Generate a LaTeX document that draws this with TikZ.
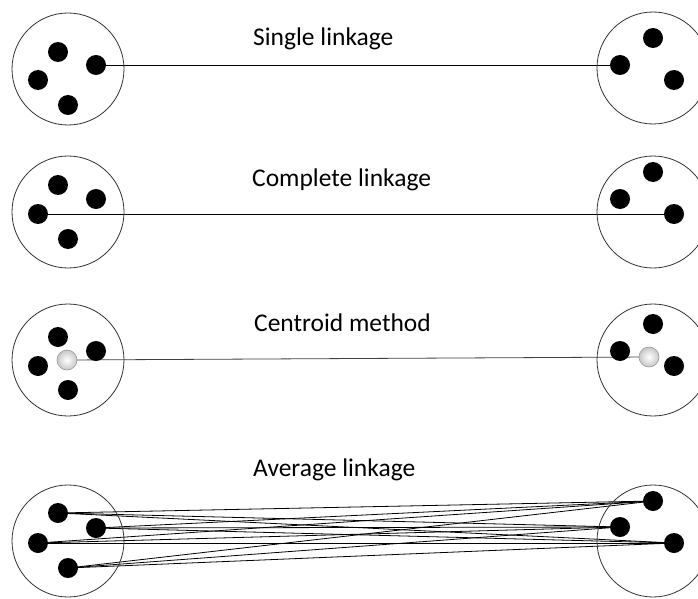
\documentclass[tikz,border=0pt]{standalone}
\usepackage{fontspec}
\setmainfont{Carlito}
\usetikzlibrary{shadings}
\pgfdeclarelayer{links}
\pgfsetlayers{links,main}
\tikzset{
  cluster/.style={circle, draw=black!80, line width=0.8pt, minimum size=112pt, inner sep=0pt},
  pt/.style={circle, fill=black, minimum size=20pt, inner sep=0pt},
  cen/.style={circle, draw=black!40, line width=0.6pt, inner color=white, outer color=black!22, minimum size=20pt, inner sep=0pt},
  link/.style={draw=black, line width=0.8pt},
  title/.style={anchor=base west, font=\fontsize{25.5}{30}\selectfont, inner sep=0pt}
}
\begin{document}
\begin{tikzpicture}[x=1pt,y=-1pt]
\useasboundingbox (0,0) rectangle (698,599);

% --- Single linkage ---
\node[title] (t1) at (253,46) {Single linkage};
\node[cluster] (L1) at (68,69) {};
\node[cluster] (R1) at (653,68) {};
\node[pt] (a1) at (58,52) {};
\node[pt] (a2) at (96,65) {};
\node[pt] (a3) at (38,80) {};
\node[pt] (a4) at (68,105) {};
\node[pt] (b1) at (653,38) {};
\node[pt] (b2) at (620,65) {};
\node[pt] (b3) at (674,80) {};
\begin{pgfonlayer}{links}
\draw[link] (a2.center) -- (b2.center);
\end{pgfonlayer}

% --- Complete linkage ---
\node[title] (t2) at (252,186) {Complete linkage};
\node[cluster] (L2) at (68,212) {};
\node[cluster] (R2) at (653,212) {};
\node[pt] (c1) at (58,185) {};
\node[pt] (c2) at (96,199) {};
\node[pt] (c3) at (38,214) {};
\node[pt] (c4) at (68,239) {};
\node[pt] (d1) at (653,172) {};
\node[pt] (d2) at (620,199) {};
\node[pt] (d3) at (674,214) {};
\begin{pgfonlayer}{links}
\draw[link] (c3.center) -- (d3.center);
\end{pgfonlayer}

% --- Centroid method ---
\node[title] (t3) at (254,331) {Centroid method};
\node[cluster] (L3) at (68,360) {};
\node[cluster] (R3) at (653,360) {};
\node[pt] (e1) at (58,337) {};
\node[pt] (e2) at (96,351) {};
\node[pt] (e3) at (38,366) {};
\node[pt] (e4) at (68,390) {};
\node[pt] (f1) at (653,324) {};
\node[pt] (f2) at (620,351) {};
\node[pt] (f3) at (674,366) {};
\node[cen] (ec) at (67,360) {};
\node[cen] (fc) at (649,357) {};
\begin{pgfonlayer}{links}
\draw[draw=black!75, line width=0.8pt] (ec.center) -- (fc.center);
\end{pgfonlayer}

% --- Average linkage ---
\node[title] (t4) at (253,476) {Average linkage};
\node[cluster] (L4) at (68,541) {};
\node[cluster] (R4) at (653,541) {};
\node[pt] (g1) at (58,513) {};
\node[pt] (g2) at (96,528) {};
\node[pt] (g3) at (38,543) {};
\node[pt] (g4) at (68,568) {};
\node[pt] (h1) at (653,501) {};
\node[pt] (h2) at (620,527) {};
\node[pt] (h3) at (674,543) {};
\begin{pgfonlayer}{links}
\foreach \i in {1,...,4}
  \foreach \j in {1,2,3}
    \draw[link] (g\i.center) -- (h\j.center);
\end{pgfonlayer}
\end{tikzpicture}
\end{document}
